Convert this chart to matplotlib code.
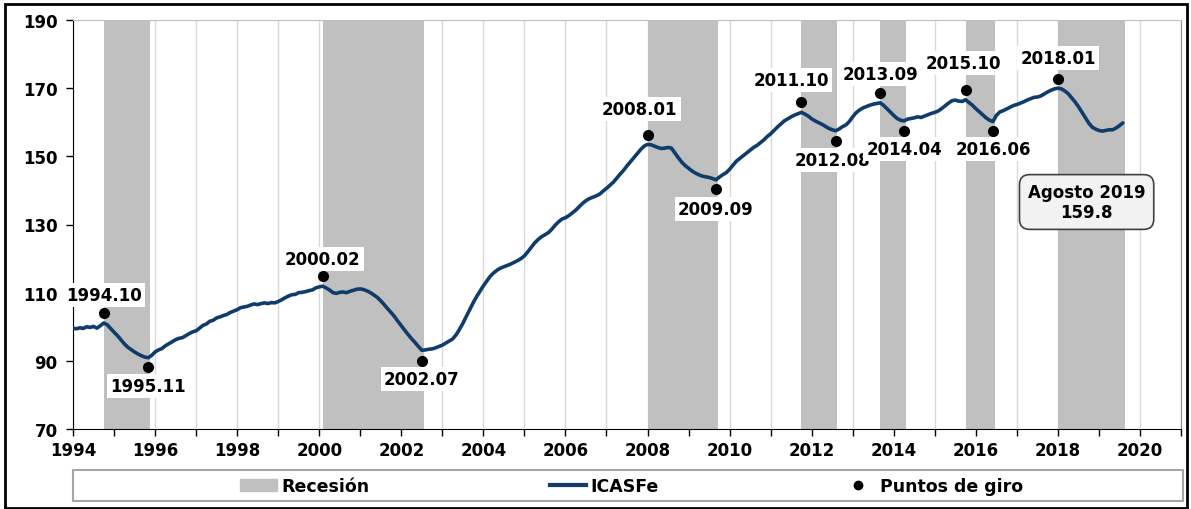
import matplotlib
matplotlib.use("Agg")
import matplotlib.pyplot as plt
from matplotlib.patches import Rectangle, Patch
from matplotlib.lines import Line2D
import numpy as np

# ICASFe monthly values, Jan 1994 - Aug 2019
ica_1994 = [99.6, 99.4, 99.7, 99.5, 100.0, 99.8, 100.1, 99.6, 100.3, 101.1, 100.6, 99.5]
ica_1995 = [98.4, 97.4, 96.2, 95.0, 94.0, 93.3, 92.6, 92.0, 91.5, 91.1, 90.9, 91.6]
ica_1996 = [92.6, 93.2, 93.6, 94.4, 95.0, 95.6, 96.2, 96.6, 96.8, 97.4, 98.0, 98.5]
ica_1997 = [98.8, 99.6, 100.4, 100.8, 101.6, 101.9, 102.6, 102.9, 103.3, 103.6, 104.2, 104.6]
ica_1998 = [105.0, 105.6, 105.8, 106.0, 106.4, 106.7, 106.5, 106.8, 107.0, 106.8, 107.1, 107.0]
ica_1999 = [107.4, 107.9, 108.5, 109.0, 109.4, 109.5, 110.0, 110.1, 110.3, 110.6, 110.8, 111.4]
ica_2000 = [111.7, 111.9, 111.4, 110.8, 110.0, 109.8, 110.1, 110.2, 110.0, 110.4, 110.7, 111.0]
ica_2001 = [111.1, 110.9, 110.5, 110.0, 109.3, 108.6, 107.6, 106.5, 105.3, 104.2, 103.0, 101.6]
ica_2002 = [100.3, 99.0, 97.7, 96.5, 95.4, 94.2, 93.1, 93.2, 93.4, 93.5, 93.8, 94.2]
ica_2003 = [94.6, 95.2, 95.8, 96.4, 97.6, 99.2, 101.0, 103.0, 105.0, 107.0, 108.8, 110.4]
ica_2004 = [112.0, 113.4, 114.8, 115.8, 116.6, 117.2, 117.6, 118.0, 118.4, 118.9, 119.4, 120.0]
ica_2005 = [120.8, 122.0, 123.3, 124.6, 125.6, 126.4, 127.0, 127.6, 128.6, 129.8, 130.8, 131.6]
ica_2006 = [132.0, 132.6, 133.4, 134.2, 135.2, 136.2, 137.0, 137.6, 138.0, 138.4, 138.9, 139.8]
ica_2007 = [140.6, 141.5, 142.4, 143.6, 144.8, 145.9, 147.2, 148.4, 149.6, 150.8, 152.0, 153.0]
ica_2008 = [153.5, 153.4, 153.0, 152.6, 152.3, 152.4, 152.6, 152.4, 151.0, 149.6, 148.3, 147.3]
ica_2009 = [146.5, 145.7, 145.1, 144.6, 144.2, 144.0, 143.8, 143.5, 143.1, 143.9, 144.6, 145.2]
ica_2010 = [146.2, 147.4, 148.6, 149.4, 150.2, 151.0, 151.8, 152.6, 153.2, 154.0, 154.8, 155.8]
ica_2011 = [156.6, 157.6, 158.6, 159.5, 160.4, 161.0, 161.6, 162.1, 162.5, 162.9, 162.4, 161.8]
ica_2012 = [161.0, 160.4, 159.9, 159.4, 158.8, 158.2, 157.8, 157.5, 158.0, 158.7, 159.2, 160.2]
ica_2013 = [161.6, 162.8, 163.6, 164.2, 164.6, 165.0, 165.3, 165.5, 165.7, 165.0, 164.0, 163.0]
ica_2014 = [162.0, 161.1, 160.6, 160.4, 160.9, 161.1, 161.3, 161.6, 161.4, 161.8, 162.2, 162.6]
ica_2015 = [162.9, 163.3, 164.0, 164.8, 165.6, 166.3, 166.5, 166.2, 166.1, 166.6, 165.8, 165.0]
ica_2016 = [164.0, 163.1, 162.2, 161.3, 160.6, 160.2, 162.0, 163.0, 163.4, 163.9, 164.4, 164.9]
ica_2017 = [165.2, 165.6, 166.0, 166.5, 166.9, 167.3, 167.4, 167.7, 168.3, 168.9, 169.4, 169.8]
ica_2018 = [170.0, 169.8, 169.2, 168.4, 167.2, 166.0, 164.6, 163.0, 161.4, 159.8, 158.6, 158.0]
ica_2019 = [157.6, 157.4, 157.6, 157.8, 157.8, 158.3, 159.0, 159.8]

ica = np.array(ica_1994 + ica_1995 + ica_1996 + ica_1997 + ica_1998 + ica_1999 +
               ica_2000 + ica_2001 + ica_2002 + ica_2003 + ica_2004 + ica_2005 +
               ica_2006 + ica_2007 + ica_2008 + ica_2009 + ica_2010 + ica_2011 +
               ica_2012 + ica_2013 + ica_2014 + ica_2015 + ica_2016 + ica_2017 +
               ica_2018 + ica_2019)
t = 1994 + np.arange(len(ica)) / 12.0

# turning points (peak / trough dates) and dot heights
tp_labels = ["1994.10", "1995.11", "2000.02", "2002.07", "2008.01", "2009.09",
             "2011.10", "2012.08", "2013.09", "2014.04", "2015.10", "2016.06", "2018.01"]
tp_values = [104.0, 88.2, 114.9, 90.0, 156.3, 140.4, 165.9, 154.5, 168.6, 157.4,
             169.5, 157.4, 172.7]
# recessions: peak -> trough, last one still open at end of data
rec_start = ["1994.10", "2000.02", "2008.01", "2011.10", "2013.09", "2015.10", "2018.01"]
rec_end = ["1995.11", "2002.07", "2009.09", "2012.08", "2014.04", "2016.06", "2019.08"]


def to_year(s):
    y, m = s.split(".")
    return int(y) + (int(m) - 1) / 12.0


# label offsets from the dot, in pixels (dx, dy)
offsets = [(0, 18), (0, -19), (0, 17), (0, -18), (-8, 26), (0, -20), (-10, 22),
           (-3, -19), (0, 19), (0, -18), (-2, 27), (0, -18), (0, 21)]

W, H = 1191, 510
fig = plt.figure(figsize=(W / 100, H / 100), dpi=100)
ax = fig.add_axes([73 / W, 1 - 430 / H, (1181 - 73) / W, (430 - 21) / H])

navy = "#0f3c6b"
grey = "#c0c0c0"

for a, b in zip(rec_start, rec_end):
    ax.axvspan(to_year(a), to_year(b) + 1 / 24, color=grey, lw=0, zorder=1)

ax.plot(t, ica, color=navy, lw=2.6, zorder=3, solid_capstyle="round")

tp_x = [to_year(s) for s in tp_labels]
ax.plot(tp_x, tp_values, "o", color="black", ms=7, zorder=4)

for x, y, lab, (dx, dy) in zip(tp_x, tp_values, tp_labels, offsets):
    ax.annotate(lab, (x, y), xytext=(dx * 0.72, dy * 0.72), textcoords="offset points",
                ha="center", va="center", fontsize=12, fontweight="bold", zorder=5,
                bbox=dict(boxstyle="square,pad=0.2", fc="white", ec="none"))

ax.text(2018.7, 136.6, "Agosto 2019\n{:.1f}".format(ica[-1]), ha="center", va="center",
        fontsize=12, fontweight="bold", linespacing=1.15, zorder=6,
        bbox=dict(boxstyle="round,pad=0.5,rounding_size=0.6", fc="#f2f2f2",
                  ec="#404040", lw=1.2))

years = list(range(1994, 2022))
ax.set_xticks(years)
ax.set_xticklabels([str(y) if y % 2 == 0 and y < 2021 else "" for y in years])
ax.set_xlim(1994, 2021)
ax.set_ylim(70, 190)
ax.set_yticks(range(70, 191, 20))
ax.grid(axis="x", color="#d9d9d9", lw=1)
ax.set_axisbelow(True)

for lab in ax.get_xticklabels() + ax.get_yticklabels():
    lab.set_fontweight("bold")
ax.tick_params(axis="both", labelsize=12, direction="out", length=5, width=1)
ax.tick_params(axis="y", pad=6)
ax.tick_params(axis="x", pad=4)

ax.spines["left"].set_color("black")
ax.spines["bottom"].set_color("black")
ax.spines["top"].set_color("#bfbfbf")
ax.spines["right"].set_color("#8c8c8c")

# legend
handles = [Patch(color=grey), Line2D([], [], color=navy, lw=3),
           Line2D([], [], marker="o", color="black", ls="none", ms=6)]
fig.legend(handles, ["Recesión", "ICASFe", "Puntos de giro"], loc="center",
           bbox_to_anchor=(632 / W, 1 - 487 / H), ncol=3, frameon=False,
           columnspacing=10.4, handlelength=2.1, handletextpad=0.25,
           prop=dict(size=12.5, weight="bold"))
fig.patches.append(Rectangle((73 / W, 1 - 502 / H), (1183 - 73) / W, 31 / H,
                             transform=fig.transFigure, fill=False,
                             ec="#a6a6a6", lw=1.5))
# outer frame
fig.patches.append(Rectangle((5 / W, 1 / H), (1187 - 5) / W, (508 - 4) / H,
                             transform=fig.transFigure, fill=False,
                             ec="black", lw=2))

fig.savefig("out.png", dpi=100)
